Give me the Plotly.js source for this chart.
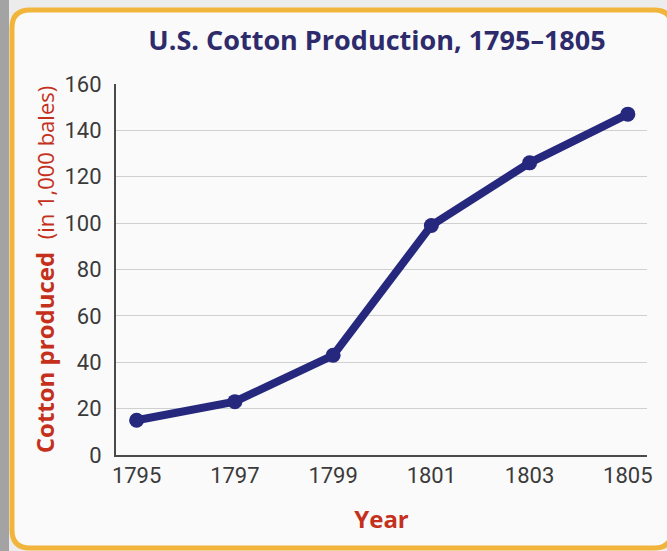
<!DOCTYPE html>
<html>
<head>
<meta charset="utf-8">
<script src="https://cdn.plot.ly/plotly-3.0.1.min.js"></script>
<style>
html,body{margin:0;padding:0;background:#ececec;}
#chart{width:667px;height:551px;}
</style>
</head>
<body>
<div id="chart"></div>
<script>
// Data
const years = [1795, 1797, 1799, 1801, 1803, 1805];
const bales = [15, 23, 43, 99, 126, 147]; // thousands of bales
const xTickVals = [1795, 1797, 1799, 1801, 1803, 1805];
const xTickText = ["1795", "1797", "1799", "1801", "1803", "1805"];
const yTickVals = [0, 20, 40, 60, 80, 100, 120, 140, 160];

// Layout geometry (pixels)
const W = 667, H = 551;
const L = 116, R = 20, T = 84, B = 96;
const pw = W - L - R, ph = H - T - B;
function px(x){ return (x - L) / pw; }
function py(y){ return (H - B - y) / ph; }

function roundRect(x0, y0, x1, y1, r){
  return "M" + px(x0 + r) + "," + py(y0) +
    " L" + px(x1 - r) + "," + py(y0) +
    " Q" + px(x1) + "," + py(y0) + " " + px(x1) + "," + py(y0 + r) +
    " L" + px(x1) + "," + py(y1 - r) +
    " Q" + px(x1) + "," + py(y1) + " " + px(x1 - r) + "," + py(y1) +
    " L" + px(x0 + r) + "," + py(y1) +
    " Q" + px(x0) + "," + py(y1) + " " + px(x0) + "," + py(y1 - r) +
    " L" + px(x0) + "," + py(y0 + r) +
    " Q" + px(x0) + "," + py(y0) + " " + px(x0 + r) + "," + py(y0) + " Z";
}

const trace = {
  x: years, y: bales,
  type: "scatter", mode: "lines+markers",
  line: {color: "#25287d", width: 8},
  marker: {color: "#25287d", size: 15},
  hoverinfo: "x+y"
};

const tickFont = {family: "Liberation Sans Narrow, Roboto, sans-serif", size: 22, color: "#3a3a3a"};

const layout = {
  width: W, height: H,
  margin: {l: L, r: R, t: T, b: B},
  paper_bgcolor: "#ececec",
  plot_bgcolor: "rgba(0,0,0,0)",
  showlegend: false,
  title: {
    text: "<b>U.S. Cotton Production, 1795–1805</b>",
    font: {family: "Open Sans, sans-serif", size: 27, color: "#2d2b6b"},
    x: px(377), xref: "paper", xanchor: "center",
    y: 1 - 41 / H, yanchor: "middle"
  },
  xaxis: {
    range: [1794.58, 1805.39],
    tickvals: xTickVals, ticktext: xTickText,
    tickfont: tickFont,
    showgrid: false, zeroline: false,
    showline: true, linecolor: "#4a4a4a", linewidth: 2,
    ticks: "", ticklen: 0,
    title: {text: "<b>Year</b>", font: {family: "Open Sans, sans-serif", size: 24, color: "#c4301c"}, standoff: 24}
  },
  yaxis: {
    range: [0, 160],
    tickvals: yTickVals,
    tickfont: tickFont,
    showgrid: true, gridcolor: "#cfcfcf", gridwidth: 1,
    zeroline: false,
    showline: true, linecolor: "#4a4a4a", linewidth: 2,
    ticks: "", ticklen: 0,
    ticklabelstandoff: 8,
    title: {
      text: "<b>Cotton produced</b>  <span style='font-size:22px'>(in 1,000 bales)</span>",
      font: {family: "Open Sans, sans-serif", size: 24, color: "#c4301c"},
      standoff: 3
    }
  },
  shapes: [
    {type: "rect", xref: "paper", yref: "paper", layer: "below",
     x0: px(0), x1: px(9), y0: py(0), y1: py(H),
     fillcolor: "#a3a3a3", line: {width: 0}},
    {type: "path", xref: "paper", yref: "paper", layer: "below",
     path: roundRect(12, 10, 672, 548, 18),
     fillcolor: "#fafafa", line: {color: "#f0b53a", width: 5}}
  ]
};

Plotly.newPlot("chart", [trace], layout, {displayModeBar: false, staticPlot: true});
</script>
</body>
</html>
